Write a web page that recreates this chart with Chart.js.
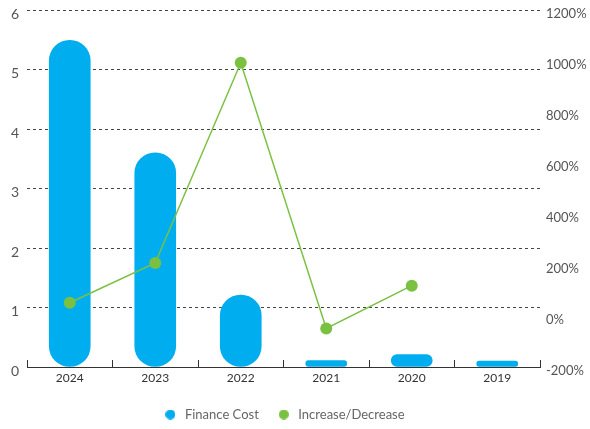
<!DOCTYPE html>
<html>
<head>
<meta charset="utf-8">
<style>
  html, body { margin: 0; padding: 0; background: #fff; }
  #wrap { width: 590px; height: 429px; position: relative; }
</style>
<script src="https://cdn.jsdelivr.net/npm/chart.js@4/dist/chart.umd.min.js"></script>
</head>
<body>
<div id="wrap"><canvas id="chart"></canvas></div>
<script>
// Years shown on the category axis
const years = ['2024', '2023', '2022', '2021', '2020', '2019'];
// Finance cost per year (left axis)
const financeCost = [5.49, 3.6, 1.21, 0.11, 0.21, 0.1];
// Year-over-year change in percent (right axis); no prior year for 2019
const changePct = [52, 208, 993, -49, 119, null];
// Tick settings for both value axes
const costTicks = { min: 0, max: 6, step: 1 };
const pctTicks = { min: -200, max: 1200, step: 200 };

const BLUE = '#00aeef';
const GREEN = '#7ac142';
const FONT = 'Lato, "Open Sans", sans-serif';

// Value axes should not reserve extra room above/below for half tick labels
const noVerticalPadding = s => { s.paddingTop = 0; s.paddingBottom = 0; };

// Small round legend marker rendered once per colour
function legendDot(color) {
  const c = document.createElement('canvas');
  c.width = 10; c.height = 10;
  const g = c.getContext('2d');
  g.fillStyle = color;
  g.beginPath();
  g.arc(5, 5, 5, 0, Math.PI * 2);
  g.fill();
  return c;
}

new Chart(document.getElementById('chart'), {
  data: {
    labels: years,
    datasets: [
      {
        type: 'bar',
        label: 'Finance Cost',
        data: financeCost,
        backgroundColor: BLUE,
        borderWidth: 0,
        borderRadius: 21,
        borderSkipped: false,
        barThickness: 41,
        yAxisID: 'y',
        order: 2
      },
      {
        type: 'line',
        label: 'Increase/Decrease',
        data: changePct,
        borderColor: GREEN,
        backgroundColor: GREEN,
        borderWidth: 1.5,
        pointRadius: 6,
        pointHoverRadius: 6,
        pointBorderWidth: 0,
        tension: 0,
        yAxisID: 'y1',
        order: 1
      }
    ]
  },
  options: {
    responsive: true,
    maintainAspectRatio: false,
    animation: false,
    layout: { padding: { top: 10, left: 4, right: 0, bottom: 0 } },
    plugins: {
      tooltip: { enabled: false },
      legend: {
        position: 'bottom',
        fullSize: false,
        maxHeight: 38,
        labels: {
          usePointStyle: true,
          pointStyleWidth: 16,
          boxHeight: 10,
          padding: 17,
          color: '#666',
          font: { family: FONT, size: 13 },
          sort: (a, b) => a.datasetIndex - b.datasetIndex,
          generateLabels: chart => {
            const items = Chart.defaults.plugins.legend.labels.generateLabels(chart);
            items.forEach(it => {
              const ds = chart.data.datasets[it.datasetIndex];
              it.pointStyle = legendDot(ds.type === 'bar' ? ds.backgroundColor : ds.borderColor);
            });
            return items;
          }
        }
      }
    },
    scales: {
      x: {
        offset: true,
        grid: {
          offset: true,
          drawOnChartArea: false,
          drawTicks: true,
          tickLength: -7,
          color: '#333',
          lineWidth: 1
        },
        border: { display: true, color: '#333', width: 1 },
        ticks: {
          color: '#333',
          padding: 11,
          font: { family: FONT, size: 12 }
        },
        afterFit: s => { s.height = 24; }
      },
      y: {
        position: 'left',
        min: costTicks.min,
        max: costTicks.max,
        ticks: {
          stepSize: costTicks.step,
          color: '#555',
          padding: 8,
          labelOffset: 4,
          font: { family: FONT, size: 14 }
        },
        grid: {
          drawTicks: false,
          color: '#444',
          lineWidth: 1
        },
        border: { display: false, dash: [3, 3] },
        afterFit: s => { s.width = 23; noVerticalPadding(s); }
      },
      y1: {
        position: 'right',
        min: pctTicks.min,
        max: pctTicks.max,
        ticks: {
          stepSize: pctTicks.step,
          color: '#555',
          padding: 6,
          labelOffset: 4,
          font: { family: FONT, size: 13 },
          callback: v => v + '%'
        },
        grid: { display: false, drawTicks: false },
        border: { display: false },
        afterFit: s => { s.width = 50; noVerticalPadding(s); }
      }
    }
  }
});
</script>
</body>
</html>
